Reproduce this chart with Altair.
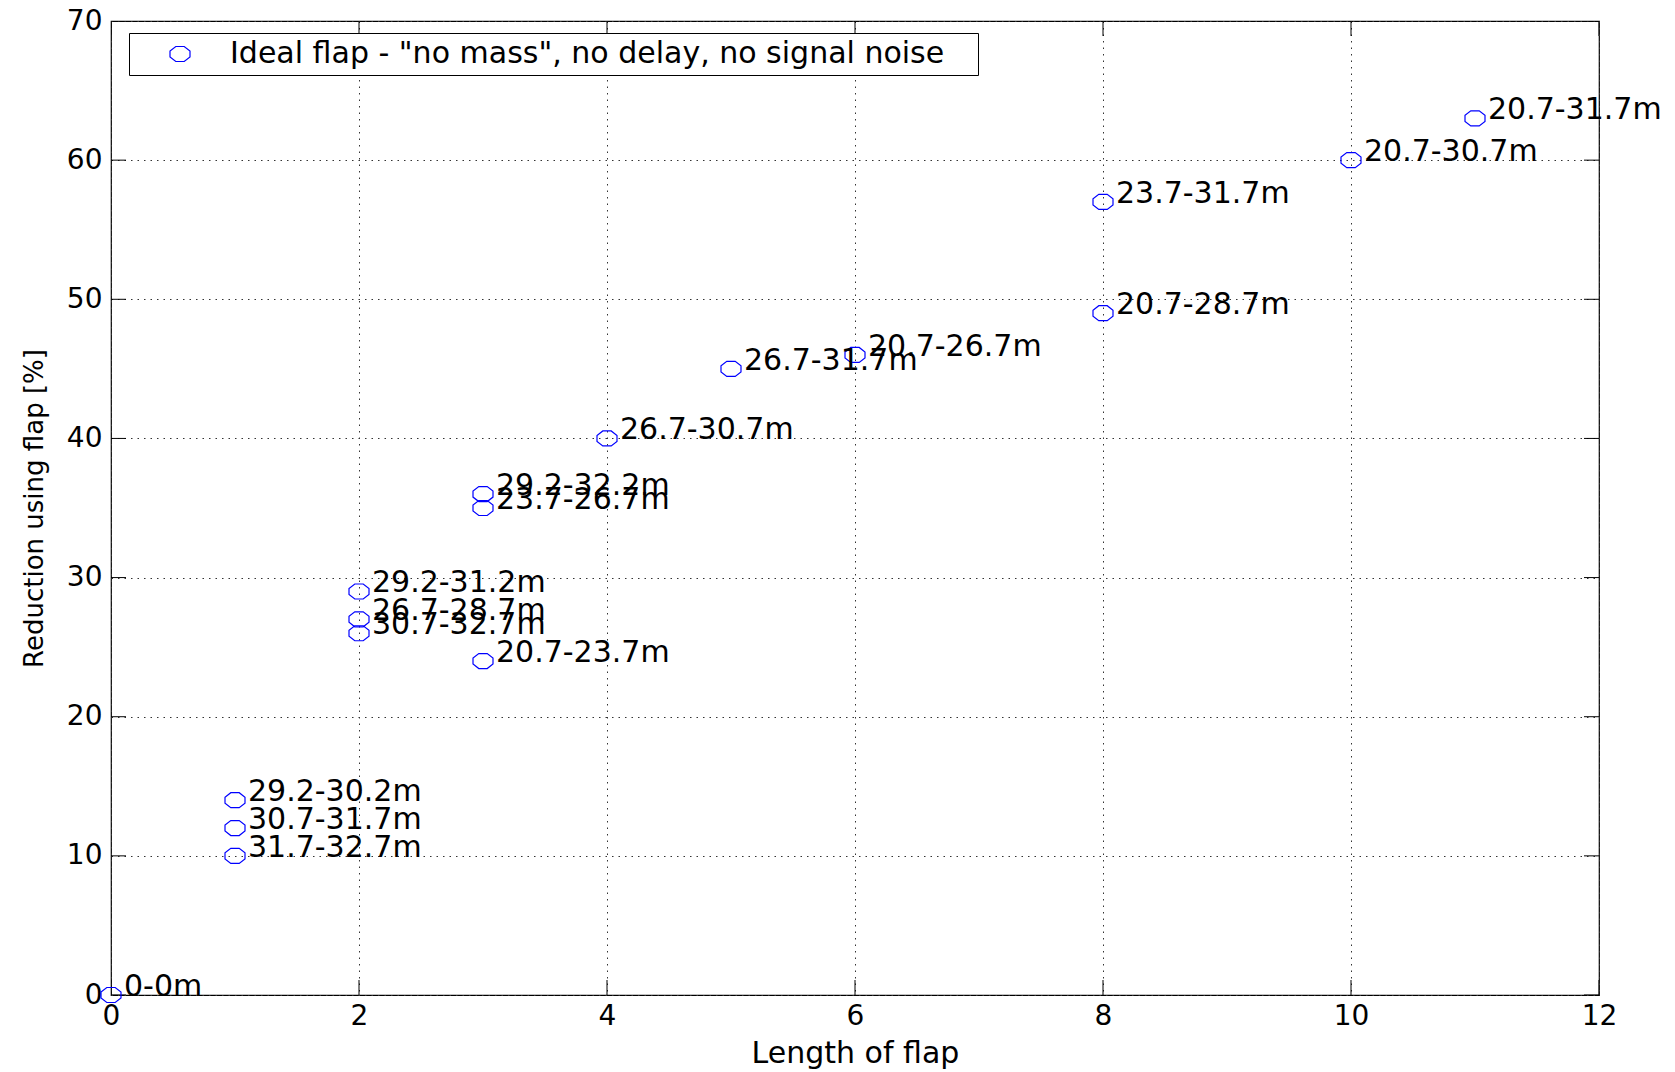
import altair as alt
import pandas as pd

# ---- data ----
flap_length = [0, 1, 1, 1, 2, 2, 2, 3, 3, 3, 4, 5, 6, 8, 8, 10, 11]
reduction = [0, 14, 12, 10, 29, 27, 26, 36, 35, 24, 40, 45, 46, 57, 49, 60, 63]
ranges = ["0-0m", "29.2-30.2m", "30.7-31.7m", "31.7-32.7m",
          "29.2-31.2m", "26.7-28.7m", "30.7-32.7m",
          "29.2-32.2m", "23.7-26.7m", "20.7-23.7m",
          "26.7-30.7m", "26.7-31.7m", "20.7-26.7m",
          "23.7-31.7m", "20.7-28.7m", "20.7-30.7m", "20.7-31.7m"]
x_ticks = [0, 2, 4, 6, 8, 10, 12]
y_ticks = [0, 10, 20, 30, 40, 50, 60, 70]
series_name = 'Ideal flap - "no mass", no delay, no signal noise'
x_title = "Length of flap"
y_title = "Reduction using flap [%]"

df = pd.DataFrame({"x": flap_length, "y": reduction, "label": ranges,
                   "series": series_name})
xt = pd.DataFrame({"x": x_ticks * 2,
                   "y": [y_ticks[0]] * len(x_ticks) + [y_ticks[-1]] * len(x_ticks)})
yt = pd.DataFrame({"x": [x_ticks[0]] * len(y_ticks) + [x_ticks[-1]] * len(y_ticks),
                   "y": y_ticks * 2})

FONT = "DejaVu Sans"
BLUE = "#0000ff"
OCT = "M-0.42,-0.75L0.42,-0.75L1,-0.3L1,0.3L0.42,0.75L-0.42,0.75L-1,0.3L-1,-0.3Z"

xscale = alt.Scale(domain=[x_ticks[0], x_ticks[-1]], nice=False, zero=False)
yscale = alt.Scale(domain=[y_ticks[0], y_ticks[-1]], nice=False, zero=False)
xaxis = alt.Axis(values=x_ticks, title=x_title, grid=True, ticks=False, domain=False,
                 labelPadding=7, titlePadding=8, labelFlush=False, titleFontSize=30)
yaxis = alt.Axis(values=y_ticks, title=y_title, grid=True, ticks=False, domain=False,
                 labelPadding=9, titlePadding=19, labelFlush=False, titleFontSize=26)

X = alt.X("x:Q", scale=xscale, axis=xaxis)
Y = alt.Y("y:Q", scale=yscale, axis=yaxis)

points = alt.Chart(df).mark_point(shape=OCT, size=400, strokeWidth=1.2, filled=False,
                                  opacity=1).encode(
    x=X, y=Y,
    color=alt.Color("series:N", scale=alt.Scale(range=[BLUE]),
                    legend=alt.Legend(title="\u00a0", titleOrient="right", titlePadding=28,
                                      titleFontSize=8,
                                      orient="none", legendX=18, legendY=12,
                                      padding=6, strokeColor="black", fillColor="white",
                                      symbolType=OCT, symbolSize=400, symbolStrokeWidth=1.2,
                                      symbolOffset=30, labelOffset=35,
                                      labelFont=FONT, labelFontSize=30, labelColor="black",
                                      labelLimit=2000))
)

texts = alt.Chart(df).mark_text(align="left", baseline="alphabetic", dx=13, dy=1,
                                font=FONT, fontSize=30, color="black").encode(
    x=X, y=Y, text="label:N")

xtick_marks = alt.Chart(xt).mark_tick(orient="vertical", size=30, thickness=1,
                                      color="black", clip=True, opacity=1).encode(x=X, y=Y)
ytick_marks = alt.Chart(yt).mark_tick(orient="horizontal", size=30, thickness=1,
                                      color="black", clip=True, opacity=1).encode(x=X, y=Y)

chart = alt.layer(xtick_marks, ytick_marks, points, texts).properties(
    width=1488, height=974,
    autosize=alt.AutoSizeParams(type="none"),
    padding={"left": 111, "top": 21, "right": 76, "bottom": 77},
    background="white",
).configure_view(stroke="black", strokeWidth=1.2).configure_axis(
    labelFont=FONT, labelFontSize=28, labelColor="black",
    titleFont=FONT, titleFontWeight="normal", titleColor="black",
    gridColor="#333333", gridDash=[1.5, 5], gridWidth=1, gridOpacity=1,
)

chart.save("out.html", embed_options={"renderer": "svg", "actions": False})
